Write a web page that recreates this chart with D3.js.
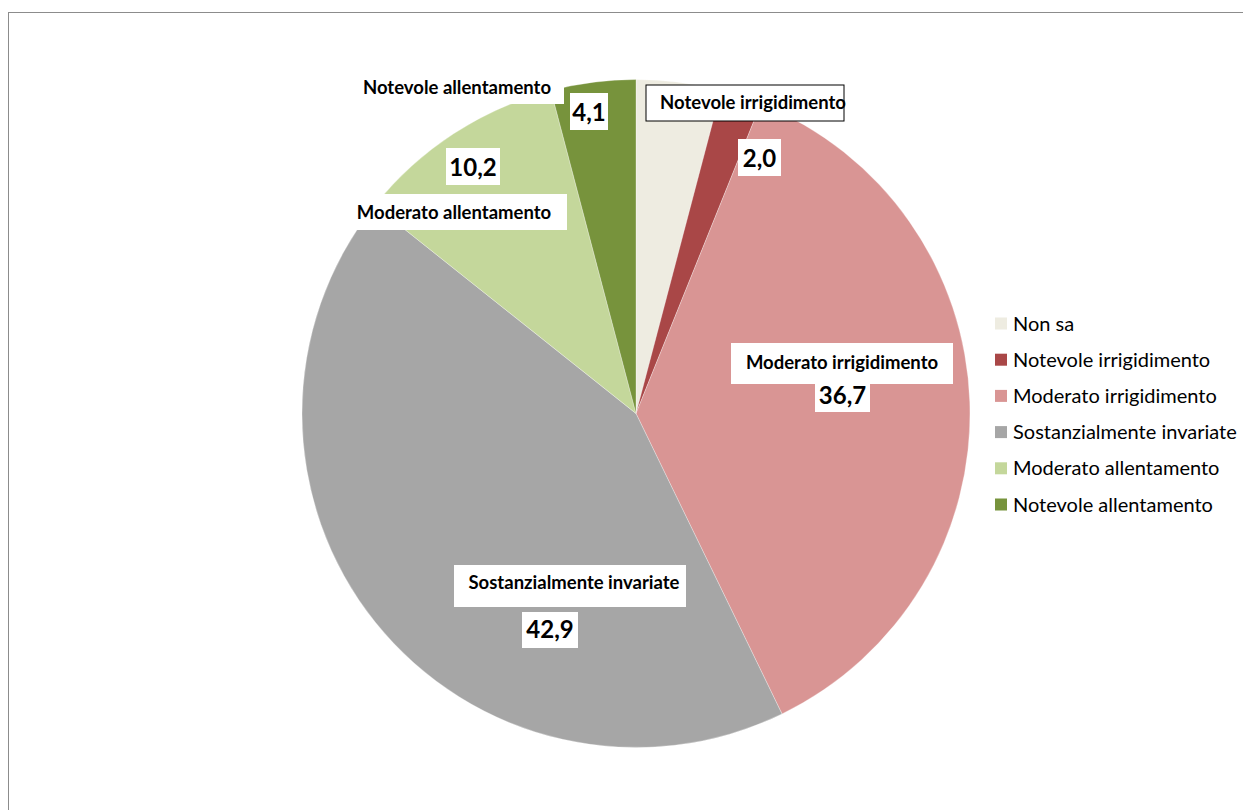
<!DOCTYPE html>
<html>
<head>
<meta charset="utf-8">
<script src="https://cdn.jsdelivr.net/npm/d3@7"></script>
<style>
  html, body { margin: 0; padding: 0; background: #fff; }
  svg { display: block; }
</style>
</head>
<body>
<svg id="chart" width="1243" height="810"></svg>
<script>
// Categories, values and colours of the pie
const categories = [
  "Non sa",
  "Notevole irrigidimento",
  "Moderato irrigidimento",
  "Sostanzialmente invariate",
  "Moderato allentamento",
  "Notevole allentamento"
];
const values = [4.1, 2.0, 36.7, 42.9, 10.2, 4.1];
const colors = ["#EEECE1", "#A94747", "#D99594", "#A6A6A6", "#C4D79B", "#77933C"];
const valueLabels = ["", "2,0", "36,7", "42,9", "10,2", "4,1"];

// Placement of the hand-positioned data labels (name box and value box)
const nameBoxes = [
  null,
  { x: 646, y: 85, w: 198, h: 36, cx: 753, by: 109, border: true },
  { x: 731, y: 343, w: 222, h: 41, cx: 842, by: 369 },
  { x: 454, y: 565, w: 232, h: 42, cx: 574, by: 589 },
  { x: 349, y: 194, w: 218, h: 36, cx: 454, by: 219 },
  { x: 350, y: 72, w: 214, h: 32, cx: 457, by: 94 }
];
const valueBoxes = [
  null,
  { x: 738, y: 139, w: 43, h: 37, cx: 759.5, by: 167 },
  { x: 815, y: 384, w: 55, h: 28, cx: 842.5, by: 404 },
  { x: 522, y: 612, w: 56, h: 36, cx: 550, by: 638 },
  { x: 446, y: 148, w: 54, h: 37, cx: 473, by: 176 },
  { x: 570, y: 93, w: 38, h: 37, cx: 589, by: 121 }
];

const svg = d3.select("#chart");
const font = "Lato, 'Open Sans', sans-serif";

// Chart area frame
svg.append("rect")
  .attr("x", 8.5).attr("y", 12.5)
  .attr("width", 1400).attr("height", 1000)
  .attr("fill", "#fff")
  .attr("stroke", "#8c8c8c").attr("stroke-width", 1);

const cx = 636, cy = 413.5, radius = 334;

const pie = d3.pie().sort(null).value(d => d.value);
const arcs = pie(categories.map((c, i) => ({ name: c, value: values[i], i })));
const arc = d3.arc().innerRadius(0).outerRadius(radius);

const g = svg.append("g").attr("transform", `translate(${cx},${cy})`);
g.selectAll("path.slice")
  .data(arcs)
  .join("path")
  .attr("class", "slice")
  .attr("d", arc)
  .attr("fill", (d, i) => colors[i])
  .attr("stroke", "rgba(255,255,255,0.5)")
  .attr("stroke-width", 0.6);

// Data labels: category name and value, each on a white box
const labels = svg.append("g");
arcs.forEach((d, i) => {
  const nb = nameBoxes[i];
  if (nb) {
    labels.append("rect")
      .attr("x", nb.x).attr("y", nb.y).attr("width", nb.w).attr("height", nb.h)
      .attr("fill", "#fff")
      .attr("stroke", nb.border ? "#000" : "none")
      .attr("stroke-width", 1);
    labels.append("text")
      .attr("x", nb.cx).attr("y", nb.by)
      .attr("text-anchor", "middle")
      .attr("font-family", font).attr("font-weight", "bold")
      .attr("font-size", 18.5).attr("fill", "#000")
      .text(categories[i]);
  }
  const vb = valueBoxes[i];
  if (vb && valueLabels[i]) {
    labels.append("rect")
      .attr("x", vb.x).attr("y", vb.y).attr("width", vb.w).attr("height", vb.h)
      .attr("fill", "#fff");
    labels.append("text")
      .attr("x", vb.cx).attr("y", vb.by)
      .attr("text-anchor", "middle")
      .attr("font-family", font).attr("font-weight", "bold")
      .attr("font-size", 24).attr("fill", "#000")
      .text(valueLabels[i]);
  }
});

// Legend
const legendX = 995, legendY = 323.5, legendStep = 36.2;
const legend = svg.append("g");
categories.forEach((c, i) => {
  const y = legendY + i * legendStep;
  legend.append("rect")
    .attr("x", legendX).attr("y", y - 6)
    .attr("width", 12).attr("height", 12)
    .attr("fill", colors[i]);
  legend.append("text")
    .attr("x", legendX + 18).attr("y", y + 7)
    .attr("font-family", font).attr("font-size", 20)
    .attr("fill", "#000")
    .text(c);
});
</script>
</body>
</html>
